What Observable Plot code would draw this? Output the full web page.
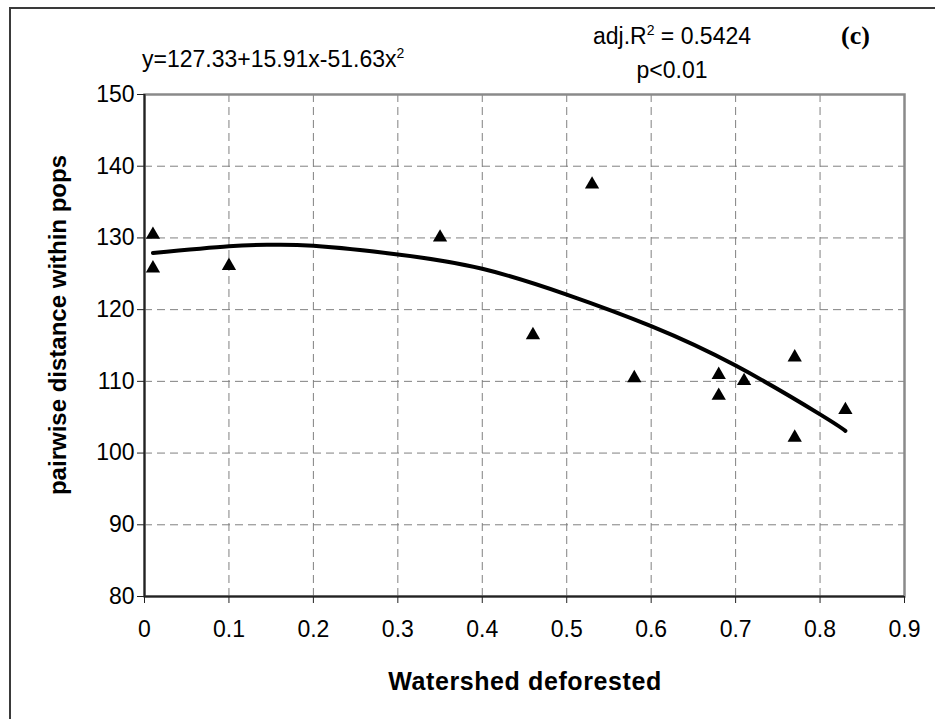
<!DOCTYPE html>
<html><head><meta charset="utf-8">
<script src="https://cdn.jsdelivr.net/npm/d3@7"></script>
<script src="https://cdn.jsdelivr.net/npm/@observablehq/plot@0.6"></script>
<style>
html,body{margin:0;padding:0;background:#fff;}
body{width:935px;height:719px;overflow:hidden;position:relative;font-family:"Liberation Sans",Arial,sans-serif;color:#000;}
#frame{position:absolute;left:9px;top:7px;width:960px;height:760px;border-left:2px solid #3a3a3a;border-top:2px solid #3a3a3a;}
#chart{position:absolute;left:0;top:0;}
.ann{position:absolute;font-size:23px;line-height:1;white-space:nowrap;}
.sup{font-size:14px;position:relative;top:-9px;}
.ttl{position:absolute;font-weight:bold;font-size:24px;line-height:1;white-space:nowrap;}
</style></head><body>
<div id="frame"></div>
<div id="chart"></div>
<div class="ann" style="left:142px;top:48px">y=127.33+15.91x-51.63x<span class="sup">2</span></div>
<div class="ann" style="left:672px;top:25px;transform:translateX(-50%)">adj.R<span class="sup">2</span> = 0.5424</div>
<div class="ann" style="left:672px;top:59px;transform:translateX(-50%)">p&lt;0.01</div>
<div class="ann" style="left:841px;top:23px;font-family:'Liberation Serif',serif;font-weight:bold;font-size:26px">(c)</div>
<div class="ttl" style="left:525px;top:669px;transform:translateX(-50%);font-size:25px;letter-spacing:0.6px">Watershed deforested</div>
<div class="ttl" style="left:58px;top:325px;transform:translate(-50%,-50%) rotate(-90deg)">pairwise distance within pops</div>
<script>
// observed points
const deforested = [0.01, 0.01, 0.10, 0.35, 0.46, 0.53, 0.58, 0.68, 0.68, 0.71, 0.77, 0.77, 0.83];
const pairwise   = [130.6, 125.9, 126.25, 130.2, 116.6, 137.6, 110.6, 111.05, 108.15, 110.2, 113.5, 102.3, 106.15];
// fitted curve
const fitX = [0.01, 0.10, 0.15, 0.20, 0.30, 0.40, 0.50, 0.60, 0.70, 0.80, 0.83];
const fitY = [127.9, 128.85, 129.05, 128.9, 127.7, 125.7, 122.1, 117.7, 112.2, 105.4, 103.1];
// axes
const xTicks = [0, 0.1, 0.2, 0.3, 0.4, 0.5, 0.6, 0.7, 0.8, 0.9];
const xTickLabels = ["0", "0.1", "0.2", "0.3", "0.4", "0.5", "0.6", "0.7", "0.8", "0.9"];
const yTicks = [80, 90, 100, 110, 120, 130, 140, 150];

const points = deforested.map((x, i) => ({x, y: pairwise[i]}));
const fit = fitX.map((x, i) => ({x, y: fitY[i]}));

const chart = Plot.plot({
  width: 935, height: 719,
  marginLeft: 144, marginRight: 31, marginTop: 94, marginBottom: 123,
  x: {domain: [0, 0.9]},
  y: {domain: [80, 150]},
  style: {fontFamily: "'Liberation Sans', Arial, sans-serif", fontSize: "23px", background: "transparent", color: "#000"},
  marks: [
    Plot.gridX(xTicks, {stroke: "#808080", strokeOpacity: 1, strokeWidth: 1, strokeDasharray: "8,5"}),
    Plot.gridY(yTicks, {stroke: "#808080", strokeOpacity: 1, strokeWidth: 1, strokeDasharray: "8,5"}),
    Plot.frame({stroke: "#8a8a8a", strokeWidth: 2.5}),
    Plot.ruleX([0], {stroke: "#222", strokeWidth: 2}),
    Plot.ruleY([80], {stroke: "#222", strokeWidth: 2}),
    Plot.axisX(xTicks, {tickFormat: (d, i) => xTickLabels[i], tickSize: 7, tickPadding: 17, label: null, stroke: "#222", fill: "#000", fontSize: 23}),
    Plot.axisY(yTicks, {tickSize: 7, tickPadding: 3, label: null, stroke: "#222", fill: "#000", fontSize: 23}),
    Plot.line(fit, {x: "x", y: "y", curve: "natural", stroke: "#000", strokeWidth: 4, strokeLinecap: "round"}),
    Plot.dot(points, {x: "x", y: "y", symbol: "triangle", r: 5.3, fill: "#000", stroke: null, dy: 1})
  ]
});
document.getElementById("chart").appendChild(chart);
</script>
</body></html>
